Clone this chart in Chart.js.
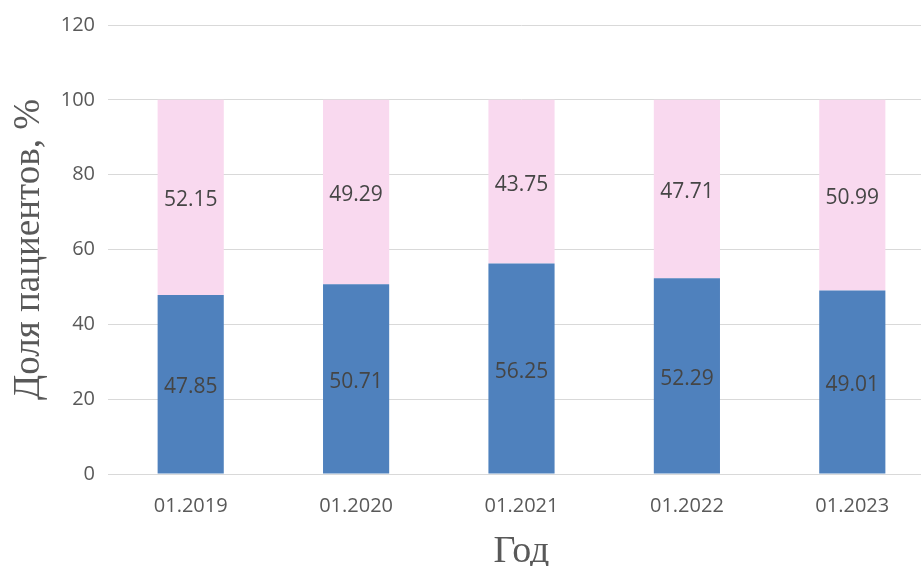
<!DOCTYPE html>
<html>
<head>
<meta charset="utf-8">
<script src="https://cdn.jsdelivr.net/npm/chart.js@4.4.1/dist/chart.umd.min.js"></script>
<style>
  html, body { margin: 0; padding: 0; background: #fff; overflow: hidden; }
  #wrap { width: 935px; height: 566px; }
</style>
</head>
<body>
<div id="wrap"><canvas id="chart" width="935" height="566"></canvas></div>
<script>
// Data
const years = ["01.2019", "01.2020", "01.2021", "01.2022", "01.2023"];
const blueShare = [47.85, 50.71, 56.25, 52.29, 49.01];
const pinkShare = [52.15, 49.29, 43.75, 47.71, 50.99];
const yTitle = "Доля пациентов, %";
const xTitle = "Год";

// Labels in the middle of each segment
const segmentLabels = {
  id: "segmentLabels",
  afterDatasetsDraw(chart) {
    const ctx = chart.ctx;
    ctx.save();
    ctx.font = "21px 'Open Sans'";
    ctx.fillStyle = "#454545";
    ctx.textAlign = "center";
    ctx.textBaseline = "middle";
    chart.data.datasets.forEach((ds, i) => {
      chart.getDatasetMeta(i).data.forEach((bar, j) => {
        const mid = (bar.y + bar.base) / 2;
        ctx.fillText(ds.data[j].toFixed(2), bar.x, mid + 3);
      });
    });
    ctx.restore();
  },
};

new Chart(document.getElementById("chart"), {
  type: "bar",
  data: {
    labels: years,
    datasets: [
      {
        data: blueShare,
        backgroundColor: "#4f81bd",
        barPercentage: 0.4,
        categoryPercentage: 1,
      },
      {
        data: pinkShare,
        backgroundColor: "#f9d9ef",
        barPercentage: 0.4,
        categoryPercentage: 1,
      },
    ],
  },
  options: {
    responsive: false,
    animation: false,
    layout: { padding: { top: 23, right: 0, left: 0, bottom: 0 } },
    plugins: { legend: { display: false }, tooltip: { enabled: false } },
    scales: {
      x: {
        stacked: true,
        grid: { display: false },
        border: { color: "#d9d9d9" },
        ticks: { color: "#595959", font: { family: "Open Sans", size: 20 }, padding: 12 },
        title: {
          display: true,
          text: xTitle,
          color: "#595959",
          font: { family: "Liberation Serif", size: 38, lineHeight: 1 },
          padding: { top: 0, bottom: -5 },
        },
        afterFit(scale) { scale.height = 92; },
      },
      y: {
        stacked: true,
        min: 0,
        max: 120,
        ticks: { stepSize: 20, color: "#595959", font: { family: "Open Sans", size: 20 }, padding: 13 },
        grid: { color: "#d9d9d9", drawTicks: false },
        border: { display: false },
        title: {
          display: true,
          text: yTitle,
          color: "#595959",
          font: { family: "Liberation Serif", size: 37, lineHeight: 1 },
          padding: { top: 11, bottom: 0 },
        },
        afterFit(scale) { scale.width = 108; },
      },
    },
  },
  plugins: [segmentLabels],
});
</script>
</body>
</html>
